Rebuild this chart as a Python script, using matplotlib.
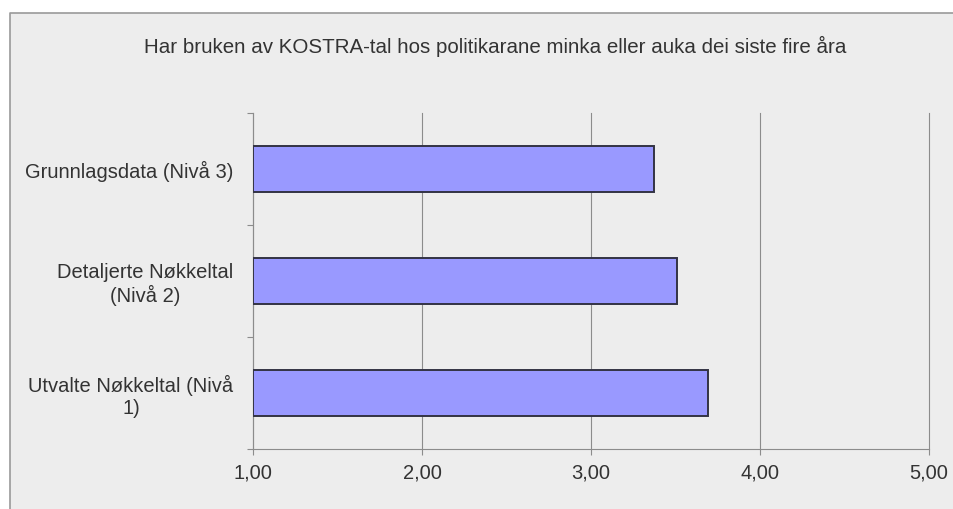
import matplotlib.pyplot as plt
from matplotlib.patches import Rectangle
from matplotlib.lines import Line2D

# Mean score per KOSTRA level (scale 1-5)
categories = ["Grunnlagsdata (Nivå 3)",
              "Detaljerte Nøkkeltal\n(Nivå 2)",
              "Utvalte Nøkkeltal (Nivå\n1)"]
values = [3.37, 3.51, 3.69]
xticks = [1, 2, 3, 4, 5]
xticklabels = ["1,00", "2,00", "3,00", "4,00", "5,00"]
title = "Har bruken av KOSTRA-tal hos politikarane minka eller auka dei siste fire åra"

plt.rcParams['font.family'] = ['Liberation Sans', 'DejaVu Sans']
text_col = "#333333"
line_col = "#8c8c8c"

fig = plt.figure(figsize=(9.54, 5.09), dpi=100, facecolor="white")

# chart frame: grey fill with a border on the top and left only
fx, fy = 10 / 954, 1 - 13 / 509
fig.patches.append(Rectangle((fx, 0), 1 - fx, fy, transform=fig.transFigure,
                             facecolor="#ededed", edgecolor="none", zorder=-2))
fig.lines.append(Line2D([fx, fx, 1], [0, fy, fy], transform=fig.transFigure,
                        color="#9a9a9a", linewidth=1.2, zorder=-1))

ax = fig.add_axes([253 / 954, (509 - 449) / 509, (929 - 253) / 954, (449 - 113) / 509])
ax.set_facecolor("none")
ax.set_zorder(1)

ypos = list(range(len(categories)))
ax.barh(ypos, [v - 1 for v in values], left=1, height=0.41,
        color="#9999ff", edgecolor="#333344", linewidth=1.4, zorder=3)

ax.set_xlim(1, 5)
ax.set_ylim(2.5, -0.5)

ax.set_xticks(xticks)
ax.set_xticklabels(xticklabels, fontsize=14.5, color=text_col)
ax.tick_params(axis="x", length=4.3, width=0.8, color=line_col, pad=6)
ax.grid(axis="x", color=line_col, linewidth=0.8, zorder=1)
for gl in ax.get_xgridlines():
    gl.set_clip_on(False)

# tick marks between categories, labels at bar centres
ax.set_yticks([-0.5, 0.5, 1.5, 2.5])
ax.set_yticklabels([])
ax.tick_params(axis="y", which="major", length=4.3, width=0.8, color=line_col)
ax.set_yticks(ypos, minor=True)
ax.set_yticklabels(categories, minor=True, fontsize=14.5, color=text_col)
ax.tick_params(axis="y", which="minor", length=0, pad=14)
for lbl in ax.get_yticklabels(minor=True):
    lbl.set_multialignment("center")

for side in ["top", "right"]:
    ax.spines[side].set_visible(False)
for side in ["left", "bottom"]:
    ax.spines[side].set_color(line_col)
    ax.spines[side].set_linewidth(0.8)

fig.text(495.5 / 954, 1 - 46 / 509, title, ha="center", va="center",
         fontsize=14.8, color=text_col)

fig.savefig("out.png", dpi=100, facecolor="white")
